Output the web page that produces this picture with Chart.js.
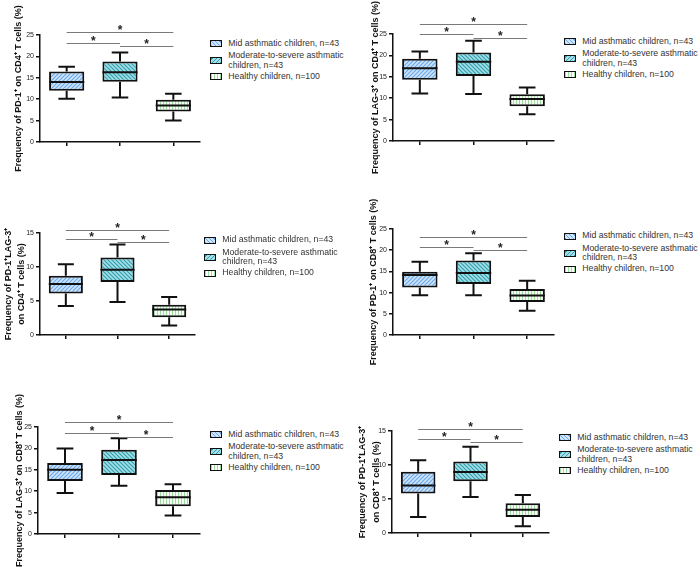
<!DOCTYPE html>
<html><head><meta charset="utf-8">
<script src="https://cdn.jsdelivr.net/npm/chart.js@4.4.1/dist/chart.umd.min.js"></script>
<style>
html,body{margin:0;padding:0;background:#fff;}
#root{position:relative;width:700px;height:567px;overflow:hidden;background:#fff;}
#root canvas{position:absolute;}
.lg{position:absolute;font-family:'Liberation Sans',Arial,sans-serif;font-size:8.7px;color:#333;white-space:nowrap;line-height:9.6px;height:9.6px;}
.sw{position:absolute;box-sizing:border-box;width:12px;height:7px;border:1.5px solid #111;}
</style></head><body><div id="root"></div>
<script>
// ---------- DATA ----------
const categories = ['Mid asthmatic children, n=43', 'Moderate-to-severe asthmatic children, n=43', 'Healthy children, n=100'];
const legendLines = [['Mid asthmatic children, n=43'], ['Moderate-to-severe asthmatic', 'children, n=43'], ['Healthy children, n=100']];
// each group: [min, Q1, median, Q3, max]
const pd1Cd4 = [[10.1, 12.0, 14.0, 16.5, 17.6], [10.4, 14.1, 16.3, 18.8, 20.9], [5.0, 7.1, 8.5, 9.9, 11.3]];
const lag3Cd4 = [[11.1, 14.3, 17.0, 19.2, 20.9], [11.0, 15.2, 18.5, 20.7, 23.4], [6.25, 8.1, 9.8, 10.9, 12.5]];
const pd1Lag3Cd4 = [[4.25, 6.1, 7.5, 8.7, 10.4], [4.85, 7.8, 9.6, 11.4, 13.3], [1.4, 2.6, 3.75, 4.45, 5.6]];
const pd1Cd8 = [[9.35, 11.2, 14.15, 14.9, 17.3], [9.4, 12.0, 14.6, 17.6, 19.3], [5.7, 7.8, 9.3, 10.85, 12.8]];
const lag3Cd8 = [[9.6, 12.4, 15.0, 16.6, 20.0], [11.25, 13.8, 17.3, 19.7, 22.4], [4.3, 6.5, 8.6, 10.3, 11.6]];
const pd1Lag3Cd8 = [[2.35, 5.8, 7.0, 9.0, 10.7], [5.3, 7.6, 8.97, 10.5, 12.7], [1.0, 2.35, 3.43, 4.36, 5.6]];
// significance bar heights: [Mid vs Healthy, Mid vs Moderate, Moderate vs Healthy]
const sigPairs = [[0, 2], [0, 1], [1, 2]];
const sigPd1Cd4 = [25.6, 23.2, 22.5];
const sigLag3Cd4 = [27.4, 25.1, 24.1];
const sigPd1Lag3Cd4 = [15.5, 14.07, 13.68];
const sigPd1Cd8 = [23.2, 20.8, 20.0];
const sigLag3Cd8 = [26.1, 23.6, 22.7];
const sigPd1Lag3Cd8 = [15.3, 13.87, 13.38];
const ticks25 = [0, 5, 10, 15, 20, 25];
const ticks15 = [0, 5, 10, 15];

// ---------- LAYOUT ----------
const FONT = "'Liberation Sans', Arial, sans-serif";
const panels = [
  {boxes: pd1Cd4, sig: sigPd1Cd4, ticks: ticks25, title: 'Frequency of PD-1\u207A on CD4\u207A T cells (%)',
   left: 0, top: 0, w: 210, h: 180, padTop: 35, padBottom: 30, yW: 40, tPad: 13.1, lh: 1.2, lgX: 210, lgY: 43.3},
  {boxes: lag3Cd4, sig: sigLag3Cd4, ticks: ticks25, title: 'Frequency of LAG-3\u207A on CD4\u207A T cells (%)',
   left: 350, top: 0, w: 214, h: 180, padTop: 34, padBottom: 31, yW: 43, tPad: 20.1, lh: 1.2, lgX: 564, lgY: 41.7},
  {boxes: pd1Lag3Cd4, sig: sigPd1Lag3Cd4, ticks: ticks15, title: ['Frequency of PD-1\u207ALAG-3\u207A', 'on CD4\u207A T cells (%)'],
   left: 0, top: 180, w: 205, h: 190, padTop: 53, padBottom: 27, yW: 40, tPad: 2.2, lh: 1.4, lgX: 204, lgY: 240},
  {boxes: pd1Cd8, sig: sigPd1Cd8, ticks: ticks25, title: 'Frequency of PD-1\u207A on CD8\u207A T cells (%)',
   left: 350, top: 180, w: 214, h: 190, padTop: 49, padBottom: 27, yW: 43, tPad: 18.6, lh: 1.2, lgX: 564, lgY: 236},
  {boxes: lag3Cd8, sig: sigLag3Cd8, ticks: ticks25, title: 'Frequency of LAG-3\u207A on CD8\u207A T cells (%)',
   left: 0, top: 370, w: 210, h: 197, padTop: 57, padBottom: 25, yW: 38, tPad: 14.1, lh: 1.2, lgX: 210, lgY: 434.3},
  {boxes: pd1Lag3Cd8, sig: sigPd1Lag3Cd8, ticks: ticks15, title: ['Frequency of PD-1\u207ALAG-3\u207A', 'on CD8\u207A T cells (%)'],
   left: 350, top: 370, w: 209, h: 197, padTop: 61, padBottom: 26, yW: 42, tPad: 5.5, lh: 1.556, lgX: 559, lgY: 437.7}
];
const legendOffsets = [[0], [12.4, 22], [33.2]];

function makePattern(bg, fg, kind) {
  const c = document.createElement('canvas');
  const s = kind === 'vert' ? 3 : 4;
  c.width = s; c.height = s;
  const g = c.getContext('2d');
  g.fillStyle = bg; g.fillRect(0, 0, s, s);
  g.strokeStyle = fg; g.lineWidth = 1.2;
  g.beginPath();
  if (kind === 'fwd') {
    g.moveTo(0, s); g.lineTo(s, 0);
    g.moveTo(-1, 1); g.lineTo(1, -1);
    g.moveTo(s - 1, s + 1); g.lineTo(s + 1, s - 1);
  } else if (kind === 'back') {
    g.moveTo(0, 0); g.lineTo(s, s);
    g.moveTo(-1, s - 1); g.lineTo(1, s + 1);
    g.moveTo(s - 1, -1); g.lineTo(s + 1, 1);
  } else {
    g.moveTo(1.5, 0); g.lineTo(1.5, s);
  }
  g.stroke();
  return g.createPattern(c, 'repeat');
}
const patterns = [
  makePattern('#cfe5fb', '#6aa8ea', 'fwd'),
  makePattern('#a6dfe6', '#2e9fb0', 'back'),
  makePattern('#ffffff', '#9ddd9d', 'vert')
];
const swatchCss = [
  'repeating-linear-gradient(45deg,#6aa8ea 0 1px,#cfe5fb 1px 3px)',
  'repeating-linear-gradient(-45deg,#2e9fb0 0 1px,#a6dfe6 1px 3px)',
  'repeating-linear-gradient(90deg,#9ddd9d 0 1px,#ffffff 1px 3px)'
];

function boxPlugin(boxes, sig) {
  return {
    id: 'boxWhiskers',
    afterDatasetsDraw(chart) {
      const ctx = chart.ctx;
      const meta = chart.getDatasetMeta(0);
      const ys = chart.scales.y, xs = chart.scales.x;
      ctx.save();
      ctx.strokeStyle = '#111';
      ctx.lineWidth = 2;
      meta.data.forEach((bar, i) => {
        const b = boxes[i];
        const x = bar.x, w = bar.width;
        const yMin = ys.getPixelForValue(b[0]), yQ1 = ys.getPixelForValue(b[1]);
        const yMed = ys.getPixelForValue(b[2]), yQ3 = ys.getPixelForValue(b[3]);
        const yMax = ys.getPixelForValue(b[4]);
        const cap = w * 0.235;
        ctx.beginPath();
        ctx.moveTo(x, yQ3); ctx.lineTo(x, yMax);
        ctx.moveTo(x - cap, yMax); ctx.lineTo(x + cap, yMax);
        ctx.moveTo(x, yQ1); ctx.lineTo(x, yMin);
        ctx.moveTo(x - cap, yMin); ctx.lineTo(x + cap, yMin);
        ctx.moveTo(x - w / 2, yMed); ctx.lineTo(x + w / 2, yMed);
        ctx.stroke();
      });
      // significance bars
      sigPairs.forEach((p, k) => {
        const x1 = xs.getPixelForValue(p[0]), x2 = xs.getPixelForValue(p[1]);
        const y = Math.round(ys.getPixelForValue(sig[k])) + 0.5;
        ctx.strokeStyle = '#7a7a7a';
        ctx.lineWidth = 1.2;
        ctx.beginPath(); ctx.moveTo(x1, y); ctx.lineTo(x2, y); ctx.stroke();
        ctx.fillStyle = '#222';
        ctx.font = 'bold 12px ' + FONT;
        ctx.textAlign = 'center';
        ctx.textBaseline = 'alphabetic';
        ctx.fillText('*', (x1 + x2) / 2, y + 1.5);
      });
      ctx.restore();
    }
  };
}

const root = document.getElementById('root');
panels.forEach((P) => {
  const cv = document.createElement('canvas');
  cv.width = P.w; cv.height = P.h;
  cv.style.left = P.left + 'px'; cv.style.top = P.top + 'px';
  cv.style.width = P.w + 'px'; cv.style.height = P.h + 'px';
  root.appendChild(cv);
  new Chart(cv.getContext('2d'), {
    type: 'bar',
    data: {
      labels: categories,
      datasets: [{
        data: P.boxes.map(b => [b[1], b[3]]),
        backgroundColor: patterns,
        borderColor: '#111',
        borderWidth: 2,
        borderSkipped: false,
        barPercentage: 0.66,
        categoryPercentage: 1
      }]
    },
    options: {
      responsive: false,
      animation: false,
      devicePixelRatio: 1,
      layout: {padding: {top: P.padTop, bottom: P.padBottom, left: 0, right: 10}},
      plugins: {legend: {display: false}, tooltip: {enabled: false}},
      scales: {
        x: {
          type: 'category',
          offset: true,
          ticks: {display: false},
          grid: {offset: false, drawOnChartArea: false, drawTicks: true, tickLength: 4, color: '#111', lineWidth: 1.5},
          border: {display: true, color: '#111', width: 1.5},
          afterFit: s => { s.height = 8; }
        },
        y: {
          min: P.ticks[0],
          max: P.ticks[P.ticks.length - 1],
          ticks: {stepSize: P.ticks[1] - P.ticks[0], color: '#222', padding: 2, font: {family: FONT, size: 7}},
          grid: {drawOnChartArea: false, drawTicks: true, tickLength: 4, color: '#111', lineWidth: 1.5},
          border: {display: true, color: '#111', width: 1.5},
          title: {display: true, text: P.title, color: '#111', padding: {top: P.tPad, bottom: 0},
                  font: {family: FONT, size: 9, weight: 'bold', lineHeight: P.lh}},
          afterFit: s => { s.width = P.yW; }
        }
      }
    },
    plugins: [boxPlugin(P.boxes, P.sig)]
  });
  // legend (HTML text)
  legendLines.forEach((lines, i) => {
    const offs = legendOffsets[i];
    const cy = offs.reduce((a, v) => a + v, 0) / offs.length + P.lgY;
    const sw = document.createElement('div');
    sw.className = 'sw';
    sw.style.left = P.lgX + 'px';
    sw.style.top = (cy - 3.5) + 'px';
    sw.style.background = swatchCss[i];
    root.appendChild(sw);
    lines.forEach((t, j) => {
      const d = document.createElement('div');
      d.className = 'lg';
      d.textContent = t;
      d.style.left = (P.lgX + 18.3) + 'px';
      d.style.top = (P.lgY + offs[j] - 4.8) + 'px';
      root.appendChild(d);
    });
  });
});
</script></body></html>
